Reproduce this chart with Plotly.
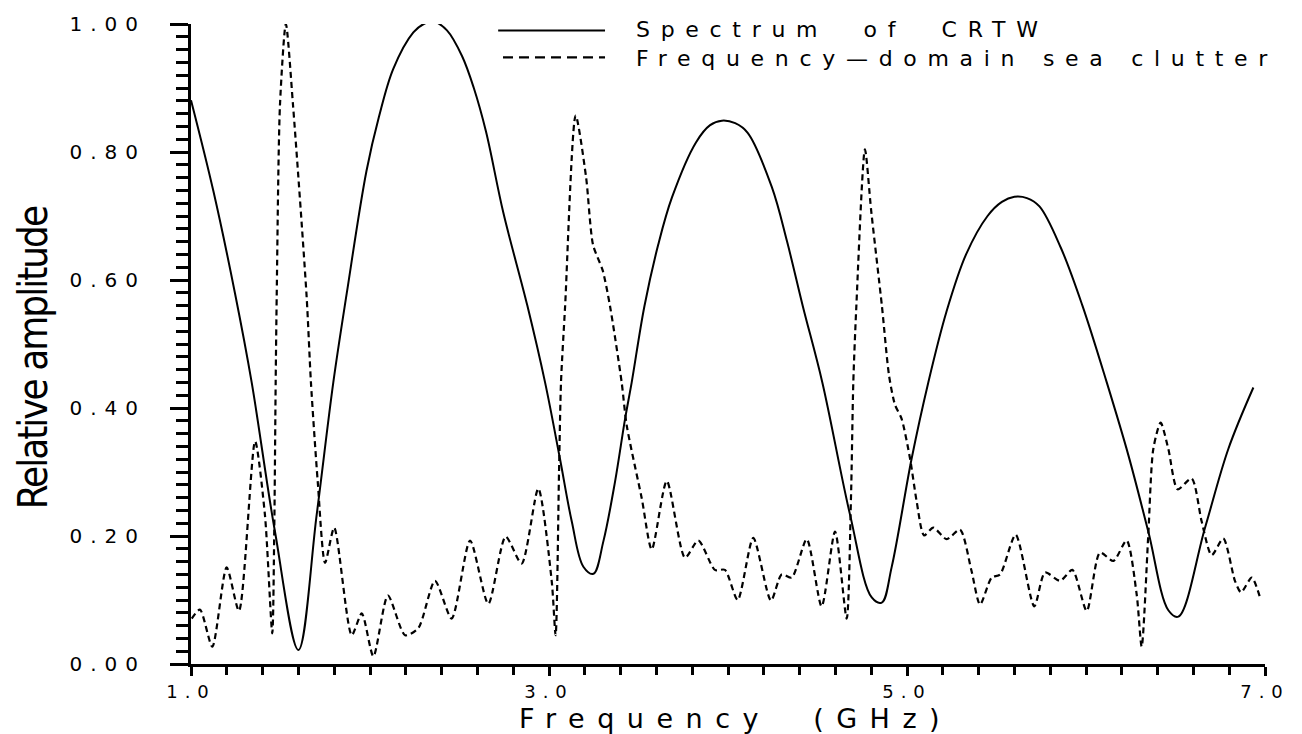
import plotly.graph_objects as go

# Spectrum of the CRTW pulse (solid curve)
crtw_freq = [1.00, 1.125, 1.246, 1.339, 1.469, 1.60, 1.702, 1.795, 1.87, 1.98, 2.05, 2.13,
             2.242, 2.30, 2.354, 2.43, 2.514, 2.58, 2.648, 2.745, 2.879, 2.978, 3.061,
             3.127, 3.192, 3.248, 3.304, 3.369, 3.425, 3.462, 3.533, 3.61, 3.687, 3.821,
             3.90, 3.966, 4.04, 4.11, 4.245, 4.33, 4.418, 4.527, 4.682, 4.803, 4.859, 4.914,
             5.026, 5.119, 5.22, 5.33, 5.45, 5.53, 5.60, 5.67, 5.74, 5.86, 5.98, 6.116,
             6.237, 6.348, 6.46, 6.516, 6.665, 6.795, 6.935]
crtw_amp = [0.881, 0.739, 0.579, 0.44, 0.207, 0.022, 0.233, 0.44, 0.579, 0.77, 0.855, 0.93,
            0.987, 1.0, 1.004, 0.99, 0.95, 0.90, 0.832, 0.705, 0.56, 0.44, 0.321,
            0.223, 0.152, 0.141, 0.192, 0.285, 0.383, 0.44, 0.559, 0.655, 0.729, 0.815,
            0.842, 0.849, 0.845, 0.83, 0.745, 0.66, 0.559, 0.44, 0.233, 0.104, 0.096, 0.151,
            0.321, 0.44, 0.55, 0.64, 0.70, 0.722, 0.73, 0.728, 0.715, 0.65, 0.56, 0.44,
            0.326, 0.207, 0.084, 0.074, 0.213, 0.336, 0.432]

# Frequency-domain sea clutter (dashed curve)
clutter_freq = [1.004, 1.05, 1.119, 1.199, 1.268, 1.358, 1.413, 1.454, 1.465, 1.473, 1.479,
                1.497, 1.53, 1.57, 1.646, 1.67, 1.708, 1.749, 1.80, 1.898, 1.954, 2.019,
                2.10, 2.196, 2.27, 2.363, 2.456, 2.559, 2.661, 2.758, 2.847, 2.940, 3.015,
                3.037, 3.056, 3.067, 3.09, 3.149, 3.207, 3.246, 3.30, 3.341, 3.406, 3.434,
                3.518, 3.574, 3.658, 3.76, 3.834, 3.927, 3.983, 4.054, 4.141, 4.24, 4.30,
                4.356, 4.44, 4.523, 4.598, 4.663, 4.687, 4.70, 4.717, 4.765, 4.80, 4.86,
                4.90, 4.933, 4.97, 5.017, 5.054, 5.095, 5.147, 5.222, 5.296, 5.36, 5.408,
                5.473, 5.52, 5.607, 5.711, 5.771, 5.855, 5.924, 6.004, 6.078, 6.153, 6.227,
                6.283, 6.311, 6.348, 6.376, 6.417, 6.46, 6.512, 6.59, 6.646, 6.702, 6.767,
                6.832, 6.866, 6.926, 6.972]
clutter_amp = [0.071, 0.085, 0.027, 0.151, 0.083, 0.348, 0.233, 0.048, 0.207, 0.44, 0.579,
               0.873, 1.0, 0.873, 0.574, 0.44, 0.285, 0.158, 0.213, 0.045, 0.079, 0.012,
               0.107, 0.045, 0.056, 0.130, 0.071, 0.193, 0.094, 0.199, 0.157, 0.274, 0.130,
               0.045, 0.30, 0.44, 0.559, 0.857, 0.761, 0.655, 0.615, 0.559, 0.44, 0.373,
               0.259, 0.179, 0.286, 0.166, 0.193, 0.147, 0.147, 0.100, 0.197, 0.099, 0.140,
               0.135, 0.195, 0.090, 0.207, 0.071, 0.259, 0.44, 0.559, 0.804, 0.708, 0.559,
               0.45, 0.405, 0.383, 0.321, 0.254, 0.201, 0.213, 0.195, 0.210, 0.146, 0.093,
               0.135, 0.140, 0.202, 0.090, 0.143, 0.130, 0.147, 0.083, 0.174, 0.161, 0.193,
               0.109, 0.027, 0.202, 0.336, 0.377, 0.336, 0.273, 0.290, 0.223, 0.170, 0.196,
               0.130, 0.112, 0.135, 0.104]

# Labelled (major) ticks; unlabelled minor ticks every 0.2 GHz and every 0.02
x_major = [1.0, 3.0, 5.0, 7.0]
x_major_text = ["1.0", "3.0", "5.0", "7.0"]
y_major = [0.0, 0.2, 0.4, 0.6, 0.8, 1.0]
y_major_text = ["0.00", "0.20", "0.40", "0.60", "0.80", "1.00"]

legend_labels = ["Spectrum  of  CRTW", "Frequency\u2014domain sea clutter"]

WIDE = "DejaVu Sans"
NARROW = "DejaVu Sans Condensed, Liberation Sans Narrow, sans-serif"


def spaced(s, px):
    return f'<span style="letter-spacing:{px}px">{s}</span>'


fig = go.Figure()
fig.add_trace(go.Scatter(x=crtw_freq, y=crtw_amp, mode="lines", name=legend_labels[0],
                         line=dict(color="black", width=2, shape="spline", smoothing=1.0)))
fig.add_trace(go.Scatter(x=clutter_freq, y=clutter_amp, mode="lines", name=legend_labels[1],
                         line=dict(color="black", width=2.2, dash="6px,4px",
                                   shape="spline", smoothing=0.7)))

fig.update_xaxes(range=[1, 7], tickmode="array", tickvals=x_major,
                 ticktext=[spaced(t, 7) for t in x_major_text],
                 ticks="outside", ticklen=9, tickwidth=3, tickcolor="black",
                 tickfont=dict(family=WIDE, size=18, color="black"),
                 minor=dict(tick0=1.0, dtick=0.2, ticks="outside", ticklen=8,
                            tickwidth=3, tickcolor="black"),
                 showline=True, linecolor="black", linewidth=3, showgrid=False,
                 zeroline=False)
fig.update_yaxes(range=[0, 1], tickmode="array", tickvals=y_major,
                 ticktext=[spaced(t, 8) for t in y_major_text],
                 ticks="outside", ticklen=18, tickwidth=3, tickcolor="black",
                 ticklabelstandoff=20,
                 tickfont=dict(family=WIDE, size=20, color="black"),
                 minor=dict(tick0=0.0, dtick=0.02, ticks="outside", ticklen=12,
                            tickwidth=3, tickcolor="black"),
                 showline=True, linecolor="black", linewidth=3, showgrid=False,
                 zeroline=False)

# Legend drawn as line samples plus a two-line label block at the top right
legend_rows = [0.990, 0.948]
fig.add_shape(type="line", xref="paper", yref="paper", x0=0.286, x1=0.3855,
              y0=legend_rows[0], y1=legend_rows[0], line=dict(color="black", width=2))
fig.add_shape(type="line", xref="paper", yref="paper", x0=0.2905, x1=0.3855,
              y0=legend_rows[1], y1=legend_rows[1],
              line=dict(color="black", width=2.2, dash="10px,6px"))
fig.add_annotation(text="<br>".join(spaced(s, 10.7) for s in legend_labels),
                   xref="paper", yref="paper", x=0.4125, y=0.969,
                   xanchor="left", yanchor="middle", align="left", showarrow=False,
                   font=dict(family=WIDE, size=22, color="black"))

# Axis titles
fig.add_annotation(text=spaced("Frequency  (GHz)", 12.5), xref="paper", yref="paper",
                   x=0.507, y=-0.0845, xanchor="center", yanchor="middle", showarrow=False,
                   font=dict(family=WIDE, size=27, color="black"))
fig.add_annotation(text=spaced("Relative amplitude", -2), xref="paper", yref="paper",
                   x=-0.147, y=0.478, textangle=-90, xanchor="center", yanchor="middle",
                   showarrow=False, font=dict(family=NARROW, size=40, color="black"))

fig.update_layout(width=1302, height=734, autosize=False, showlegend=False,
                  paper_bgcolor="white", plot_bgcolor="white",
                  margin=dict(l=191, r=37, t=18, b=70))

fig.write_html("out.html")
